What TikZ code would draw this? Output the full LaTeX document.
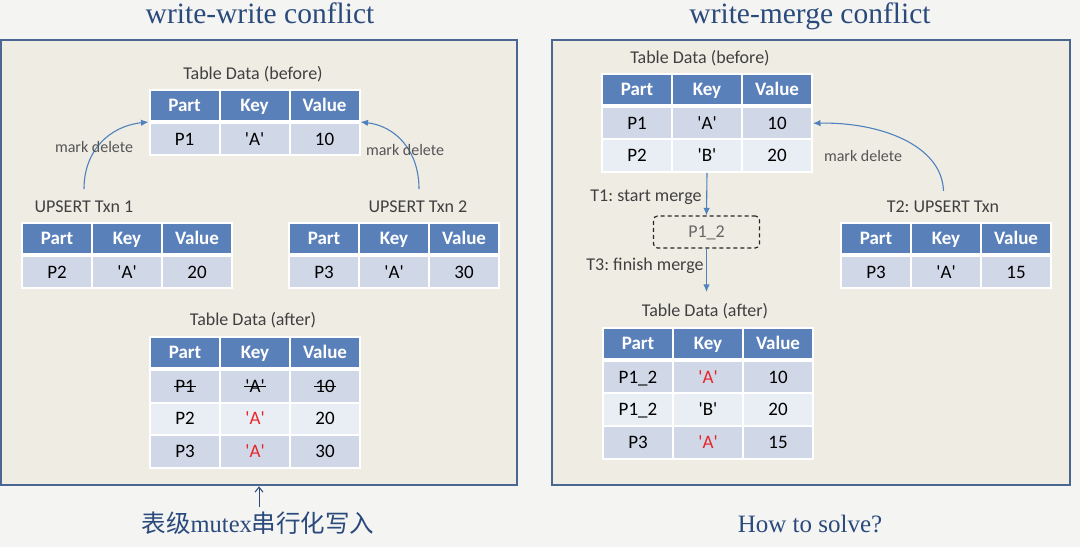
\documentclass[tikz,border=0pt]{standalone}
\usepackage{fontspec}
\setmainfont{Carlito}
\newfontfamily\serifT{Liberation Serif}
\newfontfamily\cjk{Noto Sans CJK SC}
\usetikzlibrary{arrows.meta}
\definecolor{bgc}{HTML}{F4F4F3}
\definecolor{panelfill}{HTML}{EFECE4}
\definecolor{panelborder}{HTML}{4A6791}
\definecolor{hdrblue}{HTML}{5A80BA}
\definecolor{rowdark}{HTML}{D0D8E8}
\definecolor{rowlight}{HTML}{E9EDF4}
\definecolor{arrowblue}{HTML}{4F81BD}
\definecolor{titleblue}{HTML}{2B4A7C}
\definecolor{labelgray}{HTML}{404040}
\definecolor{markgray}{HTML}{555555}
\definecolor{keyred}{HTML}{E8262A}
\newcommand\tabfont{\fontsize{19bp}{22bp}\selectfont}
\newcommand\tabfontb{\fontsize{19bp}{22bp}\selectfont\bfseries}
\newcommand\q[1]{\textquotesingle#1\textquotesingle}
\newcommand\mkrow[7]{% name, x0, yc, height, style, c1, c2
  \node[#5, minimum height=#4] (#1-1) at ({#2+35},#3) {#6};
  \node[#5, minimum height=#4] (#1-2) at ({#2+105},#3) {#7};
}
\newcommand\mkthird[6]{% name, x0, yc, height, style, c3
  \node[#5, minimum height=#4] (#1-3) at ({#2+175},#3) {#6};
}
\tikzset{
  cellbase/.style={draw=white, line width=2bp, minimum width=70bp, inner sep=0pt,
    text height=12.2bp, text depth=0bp, font=\tabfont},
  hdr/.style={cellbase, fill=hdrblue, text=white, font=\tabfontb},
  rowA/.style={cellbase, fill=rowdark},
  rowB/.style={cellbase, fill=rowlight},
  lbl/.style={inner sep=0pt, text height=11.6bp, text depth=0bp, text=labelgray,
    font=\fontsize{18bp}{21bp}\selectfont},
  marklbl/.style={inner sep=0pt, text height=10.3bp, text depth=0bp, text=markgray,
    font=\fontsize{16bp}{19bp}\selectfont},
  strk/.style={inner sep=0pt, text height=12.2bp, text depth=0bp, font=\tabfont},
  panel/.style={draw=panelborder, fill=panelfill, line width=2.7bp, inner sep=0pt},
  title/.style={anchor=base, inner sep=0pt, text=titleblue},
  conn/.style={draw=arrowblue, line width=1.1bp, -{Latex[length=7.5bp,width=6.5bp]}},
  dbox/.style={draw=black!85, dashed, dash pattern=on 4bp off 3bp, line width=1.2bp,
    rounded corners=4bp, minimum width=106bp, minimum height=32bp, inner sep=0pt,
    text height=11.6bp, text depth=0bp, text=black!60, font=\fontsize{18bp}{21bp}\selectfont}
}
\frenchspacing
\begin{document}
\begin{tikzpicture}[x=1bp,y=-1bp]
\useasboundingbox (0,0) rectangle (1080,547);
\fill[bgc] (0,0) rectangle (1080,547);

% titles
\node[title, font=\serifT\fontsize{29.5bp}{32bp}\selectfont] (t1) at (260,24) {write-write conflict};
\node[title, font=\serifT\fontsize{29.5bp}{32bp}\selectfont] (t2) at (810,24) {write-merge conflict};

% panels
\node[panel, minimum width=516bp, minimum height=445bp] (lp) at (259,262.5) {};
\node[panel, minimum width=518bp, minimum height=445bp] (rp) at (811,262.5) {};

% ===== left panel =====
\node[lbl] (lbtitle) at (253,74) {Table Data (before)};
\mkrow{lbh}{149.5}{105.5}{31bp}{hdr}{Part}{Key}\mkthird{lbh}{149.5}{105.5}{31bp}{hdr}{Value}
\mkrow{lb1}{149.5}{139.25}{32.5bp}{rowA}{P1}{\q{A}}\mkthird{lb1}{149.5}{139.25}{32.5bp}{rowA}{10}

\node[lbl] (u1) at (84,207) {UPSERT Txn 1};
\node[lbl] (u2) at (418,207) {UPSERT Txn 2};
\mkrow{ah}{22}{238.5}{31bp}{hdr}{Part}{Key}\mkthird{ah}{22}{238.5}{31bp}{hdr}{Value}
\mkrow{a1}{22}{272.25}{32.5bp}{rowA}{P2}{\q{A}}\mkthird{a1}{22}{272.25}{32.5bp}{rowA}{20}
\mkrow{bh}{289}{238.5}{31bp}{hdr}{Part}{Key}\mkthird{bh}{289}{238.5}{31bp}{hdr}{Value}
\mkrow{b1}{289}{272.25}{32.5bp}{rowA}{P3}{\q{A}}\mkthird{b1}{289}{272.25}{32.5bp}{rowA}{30}

\coordinate (s1) at (84,189);
\coordinate (s2) at (419,189);
\draw[conn] (s1) .. controls (84,150) and (110,126) .. (lbh-1.south west);
\draw[conn] (s2) .. controls (419,150) and (395,126) .. (lbh-3.south east);
\node[marklbl] (md1) at (94,147) {mark delete};
\node[marklbl] (md2) at (405,150) {mark delete};

\node[lbl] (latitle) at (253,320) {Table Data (after)};
\mkrow{lah}{150}{352.5}{31bp}{hdr}{Part}{Key}\mkthird{lah}{150}{352.5}{31bp}{hdr}{Value}
\mkrow{la1}{150}{386.25}{32.5bp}{rowA}{}{}\mkthird{la1}{150}{386.25}{32.5bp}{rowA}{}
\mkrow{la2}{150}{418.75}{32.5bp}{rowB}{P2}{\textcolor{keyred}{\q{A}}}\mkthird{la2}{150}{418.75}{32.5bp}{rowB}{20}
\mkrow{la3}{150}{451.25}{32.5bp}{rowA}{P3}{\textcolor{keyred}{\q{A}}}\mkthird{la3}{150}{451.25}{32.5bp}{rowA}{30}
\node[strk] (x1) at (la1-1) {P1};
\node[strk] (x2) at (la1-2) {\q{A}};
\node[strk] (x3) at (la1-3) {10};
\draw[line width=1bp] ([xshift=-1bp]x1.west) -- ([xshift=1bp]x1.east);
\draw[line width=1bp] ([xshift=-1bp]x2.west) -- ([xshift=1bp]x2.east);
\draw[line width=1bp] ([xshift=-1bp]x3.west) -- ([xshift=1bp]x3.east);

\coordinate (ms) at (259,507);
\draw[titleblue, line width=1bp, -{Straight Barb[length=5bp,width=8bp]}] (ms) -- (lp.south);
\node[title] (cn) at (258,532) {\fontsize{24.5bp}{28bp}\selectfont\cjk 表级\serifT mutex\cjk 串行化写入};

% ===== right panel =====
\node[lbl] (rbtitle) at (700,58) {Table Data (before)};
\mkrow{rbh}{602}{89.5}{31bp}{hdr}{Part}{Key}\mkthird{rbh}{602}{89.5}{31bp}{hdr}{Value}
\mkrow{rb1}{602}{123.25}{32.5bp}{rowA}{P1}{\q{A}}\mkthird{rb1}{602}{123.25}{32.5bp}{rowA}{10}
\mkrow{rb2}{602}{155.75}{32.5bp}{rowB}{P2}{\q{B}}\mkthird{rb2}{602}{155.75}{32.5bp}{rowB}{20}

\node[dbox] (mbox) at (706.5,232) {P1\_2};
\draw[conn] (rb2-2.south) -- (mbox.north);
\coordinate (ae) at (706.5,292);
\draw[conn] (mbox.south) -- (ae);
\node[lbl] (t1s) at (646,196) {T1: start merge};
\node[lbl] (t3f) at (645,265) {T3: finish merge};

\node[lbl] (t2u) at (943,207) {T2: UPSERT Txn};
\mkrow{ch}{841}{238.5}{31bp}{hdr}{Part}{Key}\mkthird{ch}{841}{238.5}{31bp}{hdr}{Value}
\mkrow{c1}{841}{272.25}{32.5bp}{rowA}{P3}{\q{A}}\mkthird{c1}{841}{272.25}{32.5bp}{rowA}{15}
\coordinate (s3) at (943.5,191);
\draw[conn] (s3) .. controls (942,145) and (880,122) .. (rb1-3.east);
\node[marklbl] (md3) at (863,156) {mark delete};

\node[lbl] (ratitle) at (705,311) {Table Data (after)};
\mkrow{rah}{603}{343.5}{31bp}{hdr}{Part}{Key}\mkthird{rah}{603}{343.5}{31bp}{hdr}{Value}
\mkrow{ra1}{603}{377.25}{32.5bp}{rowA}{P1\_2}{\textcolor{keyred}{\q{A}}}\mkthird{ra1}{603}{377.25}{32.5bp}{rowA}{10}
\mkrow{ra2}{603}{409.75}{32.5bp}{rowB}{P1\_2}{\q{B}}\mkthird{ra2}{603}{409.75}{32.5bp}{rowB}{20}
\mkrow{ra3}{603}{442.25}{32.5bp}{rowA}{P3}{\textcolor{keyred}{\q{A}}}\mkthird{ra3}{603}{442.25}{32.5bp}{rowA}{15}

\node[title, font=\serifT\fontsize{25bp}{28bp}\selectfont] (hs) at (810,532) {How to solve?};
\end{tikzpicture}
\end{document}
